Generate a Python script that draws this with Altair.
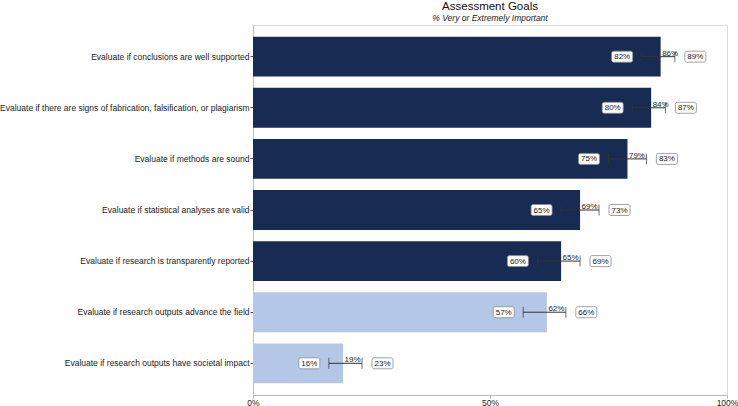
import altair as alt
import pandas as pd

items = [
    "Evaluate if conclusions are well supported",
    "Evaluate if there are signs of fabrication, falsification, or plagiarism",
    "Evaluate if methods are sound",
    "Evaluate if statistical analyses are valid",
    "Evaluate if research is transparently reported",
    "Evaluate if research outputs advance the field",
    "Evaluate if research outputs have societal impact",
]
mean_vals = [86, 84, 79, 69, 65, 62, 19]
low_vals = [82, 80, 75, 65, 60, 57, 16]
high_vals = [89, 87, 83, 73, 69, 66, 23]
groups = ["top", "top", "top", "top", "top", "other", "other"]

df = pd.DataFrame({
    "item": items, "mean": mean_vals, "low": low_vals, "high": high_vals, "group": groups,
})
df["mean_lbl"] = df["mean"].astype(str) + "%"
df["low_lbl"] = df["low"].astype(str) + "%"
df["high_lbl"] = df["high"].astype(str) + "%"

FONT = "Liberation Sans"
TXT = "#222222"

y_enc = alt.Y("item:N", sort=items, title=None,
              scale=alt.Scale(paddingInner=0.22, paddingOuter=0.23),
              axis=alt.Axis(labelFontSize=8.5, labelLimit=400, labelColor=TXT, labelFont=FONT,
                            tickColor="#555555", tickSize=3, labelPadding=1,
                            domainColor="#bdbdbd"))
x_scale = alt.Scale(domain=[0, 100], nice=False)
x_enc = alt.X("mean:Q", scale=x_scale, title=None,
              axis=alt.Axis(values=[0, 50, 100], labelExpr="datum.value + '%'",
                            labelFontSize=8.5, labelColor=TXT, labelFont=FONT, grid=False,
                            labelFlush=False, labelOverlap=False,
                            tickColor="#bdbdbd", tickSize=3, labelPadding=0,
                            domainColor="#bdbdbd"))

base = alt.Chart(df)

bars = base.mark_bar().encode(
    y=y_enc, x=x_enc,
    color=alt.Color("group:N", scale=alt.Scale(domain=["top", "other"],
                                               range=["#172B53", "#B4C7E7"]), legend=None),
)

rule = base.mark_rule(color="#333333", strokeWidth=1).encode(
    y=alt.Y("item:N", sort=items), x=alt.X("low:Q", scale=x_scale), x2="high:Q")

cap_lo = base.mark_tick(color="#333333", thickness=1, size=11).encode(
    y=alt.Y("item:N", sort=items), x=alt.X("low:Q", scale=x_scale))
cap_hi = base.mark_tick(color="#333333", thickness=1, size=11).encode(
    y=alt.Y("item:N", sort=items), x=alt.X("high:Q", scale=x_scale))

box_lo = base.mark_bar(fill="white", stroke="#8a8a8a", strokeWidth=0.8, cornerRadius=2,
                       size=11, xOffset=-30, x2Offset=-9).encode(
    y=alt.Y("item:N", sort=items), x=alt.X("low:Q", scale=x_scale), x2="low:Q")
box_hi = base.mark_bar(fill="white", stroke="#8a8a8a", strokeWidth=0.8, cornerRadius=2,
                       size=11, xOffset=10, x2Offset=31).encode(
    y=alt.Y("item:N", sort=items), x=alt.X("high:Q", scale=x_scale), x2="high:Q")

txt_lo = base.mark_text(font=FONT, fontSize=8, color=TXT, align="center", baseline="middle",
                        dx=-19.5, dy=0.5).encode(
    y=alt.Y("item:N", sort=items), x=alt.X("low:Q", scale=x_scale), text="low_lbl:N")
txt_hi = base.mark_text(font=FONT, fontSize=8, color=TXT, align="center", baseline="middle",
                        dx=20.5, dy=0.5).encode(
    y=alt.Y("item:N", sort=items), x=alt.X("high:Q", scale=x_scale), text="high_lbl:N")
txt_mean = base.mark_text(font=FONT, fontSize=8, color=TXT, align="left", baseline="alphabetic",
                          dx=1.5, dy=-1).encode(
    y=alt.Y("item:N", sort=items), x=alt.X("mean:Q", scale=x_scale), text="mean_lbl:N")

chart = alt.layer(bars, rule, cap_lo, cap_hi, box_lo, box_hi, txt_lo, txt_hi, txt_mean).properties(
    width=474, height=370,
    title=alt.TitleParams("Assessment Goals", subtitle="% Very or Extremely Important",
                          font=FONT, fontSize=11.5, fontWeight="normal", color="#111111",
                          subtitleFont=FONT, subtitleFontSize=8.5, subtitleFontStyle="italic",
                          subtitleColor="#222222", subtitlePadding=1, offset=3, anchor="middle"),
    autosize=alt.AutoSizeParams(type="none"),
    padding={"left": 253, "top": 25, "right": 11, "bottom": 11},
).configure_view(stroke=None).configure(background="white")

chart.save("out.html", embed_options={"renderer": "svg", "actions": False})
